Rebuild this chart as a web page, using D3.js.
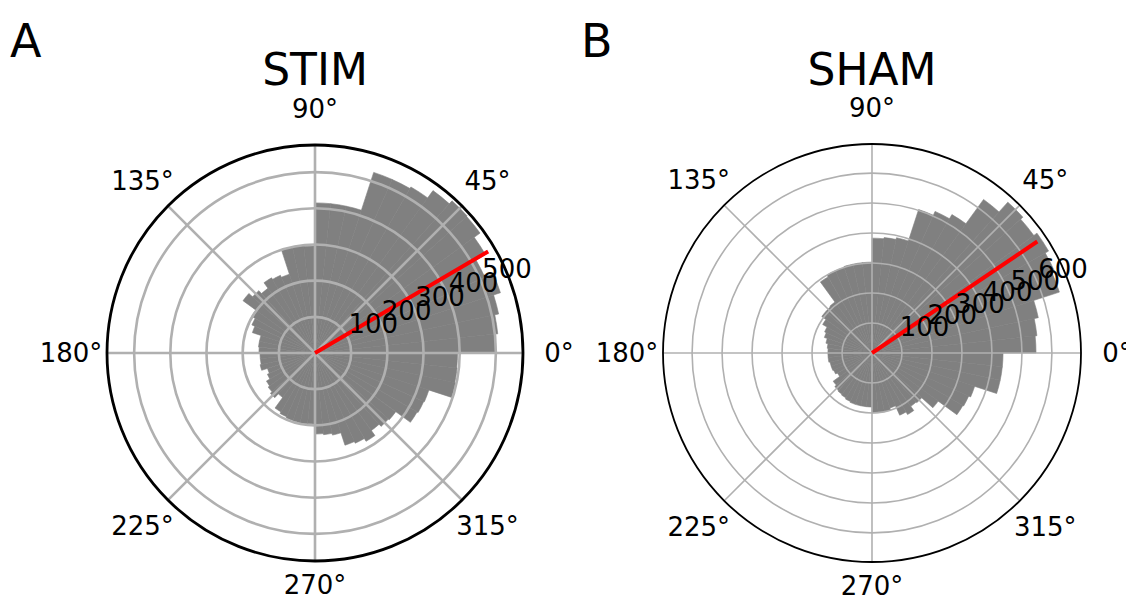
<!DOCTYPE html>
<html>
<head>
<meta charset="utf-8">
<script src="https://cdn.jsdelivr.net/npm/d3@7"></script>
<style>
body{margin:0;background:#fff;}
text{font-family:"DejaVu Sans",sans-serif;fill:#000;}
</style>
</head>
<body>
<svg id="fig" width="1126" height="608"></svg>
<script>
// 6 degree bins, counter-clockwise from 0 deg
const binWidth = 6;
const stimCounts = [500,508,519,539,514,544,564,566,555,530,525,525,415,415,415,
                    296,298,298,229,235,240,221,232,246,202,191,182,157,157,155,
                    152,152,155,138,144,155,160,166,152,188,193,196,197,197,196,
                    224,227,232,268,273,282,265,273,276,326,329,331,397,395,394];
const shamCounts = [547,553,567,657,667,680,667,677,633,533,517,503,393,387,383,
                    303,303,303,300,300,293,210,207,207,190,173,167,157,150,147,
                    147,147,143,143,140,133,160,167,170,173,177,180,180,180,180,
                    200,200,200,193,227,237,220,223,273,350,353,360,437,437,437];
const stimRTicks = [100,200,300,400,500];
const shamRTicks = [100,200,300,400,500,600];
const thetaTicks = [0,45,90,135,180,225,270,315];
const stimMean = [30.4, 555];   // angle (deg), length
const shamMean = [34, 665];

const svg = d3.select("#fig");
const rad = d => d*Math.PI/180;

function drawPolar(o){
  const g = svg.append("g").attr("transform",`translate(${o.cx},${o.cy})`);
  const r = d3.scaleLinear().domain([0,o.rmax]).range([0,o.R]);
  // math angle (ccw from east) -> d3.arc angle (cw from north)
  const a = deg => rad(90-deg);
  const arc = d3.arc().innerRadius(0);

  g.selectAll("path.bar").data(o.counts).join("path")
    .attr("class","bar")
    .attr("fill","#808080").attr("stroke","#808080").attr("stroke-width",0.6)
    .attr("d",(d,i)=>arc({outerRadius:r(d),startAngle:a((i+1)*binWidth),endAngle:a(i*binWidth)}));

  // grid
  g.selectAll("circle.grid").data(o.rTicks).join("circle")
    .attr("class","grid").attr("r",d=>r(d))
    .attr("fill","none").attr("stroke","#b0b0b0").attr("stroke-width",o.gridW);
  g.selectAll("line.grid").data(thetaTicks).join("line")
    .attr("class","grid")
    .attr("x2",d=>o.R*Math.cos(rad(d))).attr("y2",d=>-o.R*Math.sin(rad(d)))
    .attr("stroke","#b0b0b0").attr("stroke-width",o.gridW);

  // mean direction
  g.append("line")
    .attr("x2",r(o.mean[1])*Math.cos(rad(o.mean[0])))
    .attr("y2",-r(o.mean[1])*Math.sin(rad(o.mean[0])))
    .attr("stroke","#f00").attr("stroke-width",o.meanW);

  // frame
  g.append("circle").attr("r",o.R).attr("fill","none")
    .attr("stroke","#000").attr("stroke-width",o.frameW);

  // theta labels, centred outside the frame (bottom one sits a bit closer)
  const lr = d => o.R + (Math.sin(rad(d)) < -0.9 ? 24 : 36);
  g.selectAll("text.theta").data(thetaTicks).join("text")
    .attr("class","theta")
    .attr("x",d=>lr(d)*Math.cos(rad(d)))
    .attr("y",d=>-lr(d)*Math.sin(rad(d)))
    .attr("font-size",26)
    .attr("text-anchor","middle")
    .attr("dy","0.36em")
    .text(d=>d+"°");

  // radial labels along 22.5 deg
  g.selectAll("text.rlab").data(o.rTicks).join("text")
    .attr("class","rlab")
    .attr("x",d=>r(d)*Math.cos(rad(22.5)))
    .attr("y",d=>-r(d)*Math.sin(rad(22.5)))
    .attr("dy","-0.22em")
    .attr("font-size",26)
    .text(d=>d);

  svg.append("text").attr("x",o.cx).attr("y",85).attr("text-anchor","middle")
    .attr("font-size",44).text(o.title);
  svg.append("text").attr("x",o.lx).attr("y",57).attr("font-size",46).text(o.letter);
}

drawPolar({cx:315,cy:353,R:208,rmax:575,counts:stimCounts,rTicks:stimRTicks,mean:stimMean,
  gridW:2.6,frameW:2.8,meanW:4,title:"STIM",letter:"A",lx:10});
drawPolar({cx:872,cy:353,R:209,rmax:697,counts:shamCounts,rTicks:shamRTicks,mean:shamMean,
  gridW:1.6,frameW:1.8,meanW:4,title:"SHAM",letter:"B",lx:581});
</script>
</body>
</html>
